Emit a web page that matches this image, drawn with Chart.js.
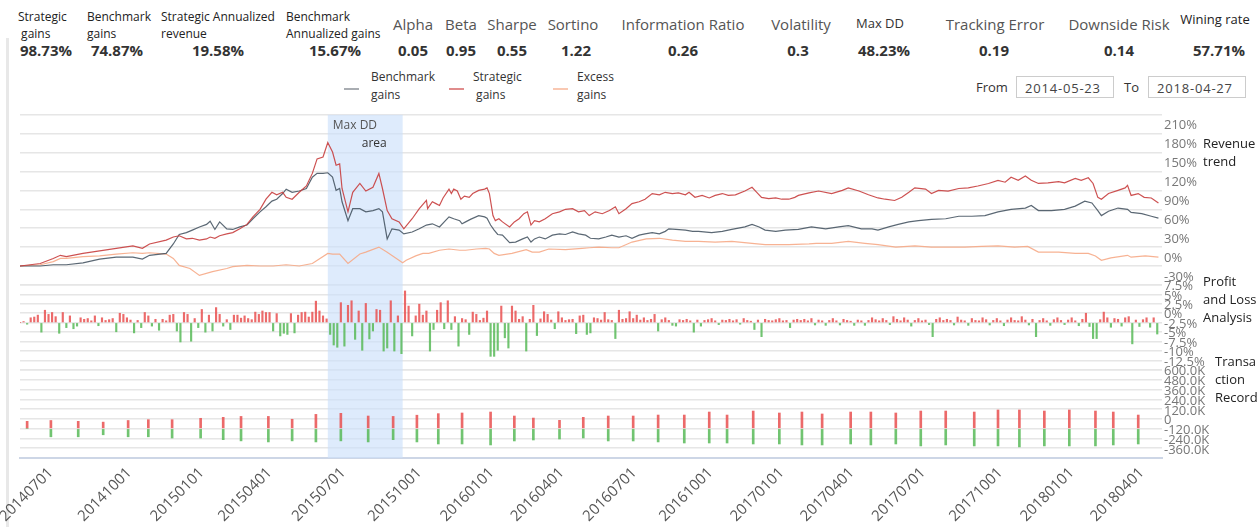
<!DOCTYPE html>
<html>
<head>
<meta charset="utf-8">
<script src="https://cdn.jsdelivr.net/npm/chart.js@4.4.0/dist/chart.umd.min.js"></script>
<style>
  body { margin: 0; width: 1260px; height: 527px; overflow: hidden; background: #fff; position: relative; font-family: "Open Sans", sans-serif; }
  .abs { position: absolute; white-space: nowrap; }
  .lbl { font-size: 12px; line-height: 17px; color: #222; }
  .big { font-size: 15px; line-height: 20px; color: #555; text-align: center; }
  .val { font-size: 15px; line-height: 20px; font-weight: bold; color: #333; text-align: center; }
  .leg { font-size: 12px; line-height: 18px; color: #333; }
  .sym { position: absolute; height: 2px; width: 15px; }
  .box { position: absolute; border: 1px solid #ccc; height: 22px; line-height: 22px; font-size: 13px; color: #444; letter-spacing: 0.8px; padding-left: 8px; box-sizing: border-box; }
  .ttl { font-size: 13px; line-height: 18px; color: #222; z-index: 2; }
  #mainChart { position: absolute; left: 0; top: 105px; }
</style>
</head>
<body>
<div class="abs" style="left:6px;top:38px;width:3px;height:489px;background:#e8e8e8;"></div>

<!-- stats header -->
<div class="abs lbl" style="left:18px;top:8px;">Strategic<br>&nbsp;gains</div>
<div class="abs val" style="left:16px;top:40px;width:60px;">98.73%</div>
<div class="abs lbl" style="left:87px;top:8px;">Benchmark<br>gains</div>
<div class="abs val" style="left:86px;top:40px;width:62px;">74.87%</div>
<div class="abs lbl" style="left:161px;top:8px;">Strategic Annualized<br>revenue</div>
<div class="abs val" style="left:176px;top:40px;width:84px;">19.58%</div>
<div class="abs lbl" style="left:286px;top:8px;">Benchmark<br>Annualized gains</div>
<div class="abs val" style="left:293px;top:40px;width:84px;">15.67%</div>

<div class="abs big" style="left:383px;top:14px;width:60px;">Alpha</div>
<div class="abs val" style="left:383px;top:40px;width:60px;">0.05</div>
<div class="abs big" style="left:436px;top:14px;width:50px;">Beta</div>
<div class="abs val" style="left:436px;top:40px;width:50px;">0.95</div>
<div class="abs big" style="left:482px;top:14px;width:60px;">Sharpe</div>
<div class="abs val" style="left:482px;top:40px;width:60px;">0.55</div>
<div class="abs big" style="left:543px;top:14px;width:60px;">Sortino</div>
<div class="abs val" style="left:546px;top:40px;width:60px;">1.22</div>
<div class="abs big" style="left:613px;top:14px;width:140px;">Information Ratio</div>
<div class="abs val" style="left:633px;top:40px;width:100px;">0.26</div>
<div class="abs big" style="left:761px;top:14px;width:80px;">Volatility</div>
<div class="abs val" style="left:758px;top:40px;width:80px;">0.3</div>
<div class="abs" style="left:840px;top:14px;width:80px;text-align:center;font-size:13px;line-height:18px;color:#333;">Max DD</div>
<div class="abs val" style="left:844px;top:40px;width:80px;">48.23%</div>
<div class="abs big" style="left:935px;top:14px;width:120px;">Tracking Error</div>
<div class="abs val" style="left:944px;top:40px;width:100px;">0.19</div>
<div class="abs big" style="left:1059px;top:14px;width:120px;">Downside Risk</div>
<div class="abs val" style="left:1069px;top:40px;width:100px;">0.14</div>
<div class="abs" style="left:1175px;top:10px;width:80px;text-align:center;font-size:13px;line-height:18px;color:#222;">Wining rate</div>
<div class="abs val" style="left:1179px;top:40px;width:80px;">57.71%</div>

<!-- legend -->
<div class="sym" style="left:344px;top:88px;background:#a9adb2;"></div>
<div class="abs leg" style="left:371px;top:68px;">Benchmark<br>gains</div>
<div class="sym" style="left:449px;top:88px;background:#e08c8c;"></div>
<div class="abs leg" style="left:473px;top:68px;">Strategic<br>&nbsp;gains</div>
<div class="sym" style="left:553px;top:88px;background:#f9c8b2;"></div>
<div class="abs leg" style="left:577px;top:68px;">Excess<br>gains</div>

<!-- date range -->
<div class="abs" style="left:976px;top:78px;font-size:13px;line-height:18px;color:#333;">From</div>
<div class="box" style="left:1016px;top:76px;width:98px;">2014-05-23</div>
<div class="abs" style="left:1124px;top:78px;font-size:13px;line-height:18px;color:#333;">To</div>
<div class="box" style="left:1148px;top:76px;width:98px;">2018-04-27</div>

<!-- panel titles -->
<div class="abs ttl" style="left:1203px;top:134px;">Revenue<br>trend</div>
<div class="abs ttl" style="left:1203px;top:272px;">Profit<br>and Loss<br>Analysis</div>
<div class="abs ttl" style="left:1215px;top:352px;">Transa<br>ction<br>Record</div>

<canvas id="mainChart" width="1260" height="422"></canvas>

<script>
// x is the trading-day index from 2014-05-23 (0) to 2018-04-27 (961)
var quarterDays = [26, 92, 153, 210, 272, 336, 397, 456, 517, 581, 641, 700, 760, 825, 885, 944];
var quarterLabels = ["20140701", "20141001", "20150101", "20150401", "20150701", "20151001", "20160101", "20160401",
  "20160701", "20161001", "20170101", "20170401", "20170701", "20171001", "20180101", "20180401"];

var maxDDRange = [259, 322];

// tick values of the three stacked panels
var revenueTicks = [-30, 0, 30, 60, 90, 120, 150, 180, 210, 240];
var pnlTicks = [-12.5, -10, -7.5, -5, -2.5, 0, 2.5, 5, 7.5, 10];
var tradeTicks = [-360000, -240000, -120000, 0, 120000, 240000, 360000, 480000, 600000, 720000];

// Revenue trend (%)
var strategicDays = [0, 17, 28, 34, 39, 53, 67, 81, 95, 103, 109, 123, 129,
  134, 140, 145, 151, 157, 160, 164, 168, 174, 179, 185, 191, 196, 202, 207, 212, 216, 221, 224, 229,
  235, 241, 246, 250, 255, 259, 263, 266, 269, 271, 276, 280, 286, 291, 297, 302, 305, 309, 313, 319, 323, 330,
  336, 342, 343, 347, 350, 353, 356, 361, 363, 365, 368, 371, 374, 378, 381, 386, 391, 393, 395, 398,
  400, 403, 406, 412, 416, 420, 424, 427, 430, 433, 437, 442, 448, 454, 459, 465, 470, 475, 479, 484,
  490, 496, 501, 504, 510, 515, 521, 526, 532, 538, 543, 549, 554, 560, 563, 568, 574, 580, 585, 591,
  596, 602, 610, 616, 620, 624, 630, 636, 641, 647, 652,
  655, 664, 672, 683, 692, 697, 706, 714, 722, 728, 736, 742, 748, 753, 762, 767, 773, 781, 790, 798,
  806, 815, 823, 829, 834, 840, 846, 851, 857, 865, 874, 879, 888, 893, 899, 903, 907, 910, 916, 924,
  930, 932, 935, 941, 946, 952, 958];
var strategicGains = [0, 4, 12, 17, 15, 20, 24, 28, 32, 28, 35, 41, 46,
  48, 43, 44, 41, 43, 46, 44, 48, 51, 53, 59, 66, 78, 90, 106, 117, 113, 117, 109, 106,
  117, 127, 147, 170, 173, 196, 181, 160, 162, 123, 86, 117, 131, 119, 125, 147, 123, 88, 75, 70, 59, 75,
  91, 104, 91, 102, 99, 96, 108, 122, 115, 122, 119, 106, 111, 109, 115, 120, 122, 124, 115, 80,
  72, 75, 70, 62, 70, 75, 83, 86, 65, 72, 70, 75, 83, 86, 90, 91, 86, 88, 80, 86,
  83, 88, 94, 83, 91, 99, 102, 106, 115, 113, 117, 115, 116, 113, 117, 109, 112, 108, 112, 115,
  112, 113, 119, 125, 117, 109, 107, 108, 106, 106, 109,
  112, 116, 119, 115, 120, 124, 119, 113, 108, 106, 104, 109, 117, 124, 122, 115, 120, 119, 123, 124,
  127, 131, 136, 133, 141, 136, 143, 136, 131, 132, 134, 132, 139, 136, 140, 131, 109, 106, 115, 120,
  124, 128, 112, 115, 109, 108, 100];

var benchmarkDays = [0, 17, 28, 34, 39, 53, 67, 81, 95, 103, 109, 123, 129,
  134, 140, 145, 151, 157, 160, 164, 168, 174, 179, 185, 191, 196, 202, 207, 212, 216, 221, 224, 229,
  235, 241, 246, 250, 255, 259, 263, 266, 269, 271, 276, 280, 286, 291, 297, 302, 305, 309, 313, 319, 323, 330,
  336, 342, 347, 353, 358, 361, 365, 370, 372, 375, 379, 386, 391, 393, 396, 399, 402, 406, 412, 417,
  423, 427, 430, 433, 437, 442, 448, 454, 459, 465, 470, 476, 480, 487, 493, 498, 504, 510, 515, 521,
  526, 532, 538, 543, 546, 552, 560, 566, 571, 582, 591, 599, 610, 616, 622, 627, 636, 644,
  655, 666, 678, 689, 697, 708, 717, 722, 731, 739, 748, 756, 767, 779, 790, 801, 812, 823, 834, 846,
  851, 857, 868, 879, 888, 896, 902, 907, 910, 916, 924, 932, 935, 944, 952, 958];
var benchmarkGains = [0, 0, 2, 2, 2, 5, 11, 14, 14, 11, 17, 20, 35,
  50, 53, 57, 62, 66, 71, 58, 70, 59, 58, 62, 65, 75, 86, 94, 103, 106, 115, 122, 117,
  119, 123, 141, 147, 147, 148, 141, 120, 123, 102, 72, 91, 91, 86, 88, 91, 86, 43, 59, 57, 51, 54,
  59, 65, 67, 62, 72, 78, 75, 72, 67, 70, 74, 80, 78, 76, 65, 57, 50, 49, 37, 38,
  43, 46, 38, 43, 46, 43, 49, 51, 50, 54, 51, 49, 44, 43, 46, 49, 46, 48, 44, 49,
  51, 53, 51, 55, 59, 58, 57, 55, 55, 53, 55, 58, 62, 66, 62, 57, 55, 57,
  58, 62, 59, 62, 64, 59, 59, 57, 62, 66, 70, 72, 74, 75, 79, 79, 80, 86, 90, 92,
  96, 88, 88, 90, 95, 103, 100, 88, 80, 87, 92, 90, 85, 83, 79, 76];

var excessDays = [0, 17, 28, 34, 39, 53, 67, 81, 95, 103, 109, 123, 129, 134, 143, 151, 162, 174, 179, 191,
  202, 213, 224, 235, 246, 259, 263, 269, 276, 286, 291, 302, 309, 322, 325, 333, 339, 344, 353, 361,
  370, 375, 384, 392, 395, 399, 403, 414, 426, 431, 437, 445, 459, 473, 479, 487, 498, 504, 515, 527,
  538, 549, 560, 571, 585, 599, 616, 627, 647, 664, 670, 683, 697, 711, 722, 737, 753, 767, 781, 795,
  809, 823, 837, 848, 857, 874, 888, 899, 905, 910, 918, 932, 935, 947, 958];
var excessGains = [0, 2, 7, 12, 12, 15, 16, 19, 21, 20, 21, 19, 12, 1, -4, -15, -9, -4, -1, 1,
  0, 0, 2, 0, 4, 20, 19, 19, 4, 19, 22, 30, 22, 5, 9, 16, 20, 20, 25, 27,
  25, 25, 27, 28, 27, 20, 17, 20, 26, 22, 22, 27, 26, 28, 29, 30, 29, 29, 38, 43,
  44, 41, 39, 39, 38, 39, 36, 34, 34, 35, 36, 36, 39, 36, 34, 30, 32, 30, 30, 30,
  31, 32, 30, 31, 22, 22, 20, 20, 16, 9, 13, 17, 14, 16, 14];

// Profit and loss (%), one bar every 3 trading days
var pnlStep = 3;
var pnlValues = [
  0, 0.3, -0.4, 1.3, 1.5, 2.0, -2.5, 3.3, 2.2, 2.7, 1.6, -2.8, 2.7, -1.3, 1.8, -1.6, -0.9, 1.3, 0.9, 1.1,
  0.5, 1.8, -0.8, 1.3, 0.6, 0.8, 1.1, -2.4, 2.5, 2.2, 1.3, 0.7, -2.7, 0.6, -1.3, 2.7, 1.8, -0.9, 0.9, -2.0,
  0.9, 0.5, 2.0, 2.2, -2.2, -5.1, 2.7, 2.2, -4.9, 1.1, -1.3, 3.5, -2.5, 2.0, -2.2, 4.0, 2.2, -0.9, 0.8, -1.8,
  2.0, 2.0, 1.2, 1.8, 1.1, 0.8, 2.8, 2.2, 3.1, 2.7, 2.7, -2.2, 2.4, -3.5, -2.8, -3.1, 2.4, -2.7, 2.0, 2.7,
  2.8, 1.5, 2.8, 5.7, 3.1, 1.8, 1.0, -3.1, -5.9, -6.5, 5.3, -6.2, 4.6, 5.8, -4.4, 3.1, -7.3, 5.1, -4.3, -2.2,
  3.5, 3.3, -7.5, -6.7, 5.8, -7.5, 1.8, -8.2, 8.4, 4.4, -3.5, 1.8, 4.9, 2.0, 3.1, -7.5, -1.8, 3.3, 5.3, -1.6,
  5.8, -1.8, 1.6, -6.2, 1.1, 0.8, -3.1, 2.8, 2.2, 0.6, 1.2, 3.1, -8.9, -8.9, -7.3, 4.4, -4.0, -6.7, 4.4, 3.1,
  0.9, 1.6, -7.5, 0.9, 4.6, -3.4, 1.0, 2.9, 2.2, 0.7, -1.6, 2.9, 1.3, 0.6, 0.8, 0.9, -2.9, 1.8, 2.0, -3.1,
  -2.7, 1.3, 1.1, 0.7, 2.7, 0.8, 0.6, -4.2, 3.3, 0.9, 1.1, 2.9, 1.1, 2.0, 0.7, 1.3, 0.6, 0.9, 2.2, -2.2,
  0.8, 1.3, 0.6, -0.7, -0.9, 0.8, 0.6, 0.9, 0.5, -2.5, 0.7, -0.9, 0.6, 0.8, 1.1, 0.5, -0.5, 0.7, 0.6, 0.9,
  0.5, 0.8, -0.4, 1.1, 0.6, 0.4, -1.8, 0.7, -3.7, 0.9, 0.6, 0.5, 0.8, 1.1, 0.5, 0.6, -1.3, 0.7, 0.9, 0.6,
  0.9, 0.5, 1.1, -0.6, 0.7, 0.5, -0.7, 0.6, 1.1, 0.5, -0.6, 0.9, 0.6, 0.4, -0.7, 0.7, 0.5, -0.7, 0.6, 1.3,
  0.8, 0.5, 1.1, 0.6, -0.5, 1.6, 0.9, 0.5, 1.3, 0.7, -0.9, 0.6, 1.1, 0.5, 0.7, -0.5, -3.7, 0.9, 1.3, 0.6,
  0.9, 0.6, -0.6, 1.5, 0.7, 0.5, -0.7, 1.1, 0.6, 0.5, 1.3, 0.8, -0.6, 0.6, 1.1, 0.5, -0.8, 0.7, 1.3, 0.6,
  0.5, 1.6, 0.7, -0.6, 0.9, -3.7, 0.6, 1.1, 0.5, -0.7, 0.8, 1.3, 0.6, -0.5, 0.7, 1.3, 0.5, -0.8, 0.9, 2.5,
  -1.0, -4.2, -4.2, 0.8, 2.8, 1.3, -1.2, 1.1, 0.9, -0.9, 1.3, 1.6, -5.6, 0.7, -1.0, 0.8, 1.3, -1.2, 1.3, -3.0
];

// Transaction record (buy / sell amounts)
var tradeDays = [6, 26, 49, 70, 91, 108, 128, 152, 171, 186, 209, 229, 249, 270, 293, 314, 334, 352, 372, 396,
  416, 432, 454, 474, 495, 516, 537, 559, 580, 595, 617, 639, 658, 675, 699, 716, 737, 758, 779, 803,
  823, 841, 862, 883, 905, 920, 941];
var buyAmounts = [90000, 100000, 90000, 80000, 100000, 110000, 110000, 127000, 139000, 150000,
  150000, 115000, 175000, 188000, 155000, 150000, 165000, 184000, 192000, 204000,
  155000, 130000, 102000, 139000, 155000, 155000, 167000, 167000, 204000, 167000,
  216000, 192000, 204000, 180000, 204000, 204000, 192000, 216000, 216000, 204000,
  229000, 229000, 216000, 229000, 216000, 204000, 167000];
var sellAmounts = [0, -100000, -100000, -75000, -100000, -100000, -115000, -115000, -135000, -150000,
  -163000, -150000, -163000, -150000, -163000, -135000, -163000, -188000, -188000, -200000,
  -151000, -139000, -127000, -114000, -151000, -151000, -163000, -176000, -176000, -176000,
  -188000, -188000, -200000, -200000, -188000, -200000, -188000, -212000, -200000, -212000,
  -212000, -224000, -212000, -212000, -212000, -200000, -188000];

var red = "rgba(233,80,80,0.85)";
var green = "rgba(88,186,88,0.85)";

function points(days, values) {
  return days.map((d, i) => ({ x: d, y: values[i] }));
}

var ddBand = {
  id: "ddBand",
  beforeDatasetsDraw: function(chart) {
    var xs = chart.scales.x;
    var area = chart.chartArea;
    var left = xs.getPixelForValue(maxDDRange[0]);
    var right = xs.getPixelForValue(maxDDRange[1]);
    var c = chart.ctx;
    c.save();
    c.fillStyle = "rgba(205,224,250,0.65)";
    c.fillRect(left, area.top, right - left, area.bottom - area.top);
    c.font = "12px 'Open Sans'";
    c.textBaseline = "middle";
    c.fillStyle = "#555";
    c.fillText("Max DD", left + 5, area.top + 11);
    c.fillStyle = "#333";
    c.fillText("area", left + 34, area.top + 29);
    c.restore();
  }
};

function rightAxis(weight, tickValues, fmt) {
  return {
    type: "linear",
    position: "right",
    stack: "panels",
    stackWeight: weight,
    min: tickValues[0],
    max: tickValues[tickValues.length - 1],
    grid: { color: "#e6e6e6", lineWidth: 1.5, drawTicks: false },
    border: { display: false },
    afterBuildTicks: function(s) {
      s.ticks = tickValues.map(v => ({ value: v }));
    },
    afterFit: function(s) { s.width = 98; },
    ticks: {
      autoSkip: false,
      padding: 2,
      labelOffset: -8,
      color: "#777",
      font: { size: 13, family: "'Open Sans'" },
      callback: fmt
    }
  };
}

var ctx = document.getElementById("mainChart").getContext("2d");

new Chart(ctx, {
  type: "bar",
  data: {
    datasets: [
      {
        type: "line",
        label: "Strategic gains",
        yAxisID: "y",
        data: points(strategicDays, strategicGains),
        borderColor: "rgba(200,62,62,0.9)",
        borderWidth: 1.2,
        pointRadius: 0
      },
      {
        type: "line",
        label: "Benchmark gains",
        yAxisID: "y",
        data: points(benchmarkDays, benchmarkGains),
        borderColor: "rgba(62,78,92,0.85)",
        borderWidth: 1.2,
        pointRadius: 0
      },
      {
        type: "line",
        label: "Excess gains",
        yAxisID: "y",
        data: points(excessDays, excessGains),
        borderColor: "rgba(246,170,135,0.9)",
        borderWidth: 1.2,
        pointRadius: 0
      },
      {
        label: "Profit and Loss",
        yAxisID: "y2",
        data: pnlValues.map((v, i) => ({ x: i * pnlStep, y: v })),
        backgroundColor: pnlValues.map(v => (v >= 0 ? red : green)),
        barThickness: 1.5,
        grouped: false
      },
      {
        label: "Buy",
        yAxisID: "y3",
        data: points(tradeDays, buyAmounts),
        backgroundColor: red,
        barThickness: 2,
        grouped: false
      },
      {
        label: "Sell",
        yAxisID: "y3",
        data: points(tradeDays, sellAmounts),
        backgroundColor: green,
        barThickness: 2,
        grouped: false
      }
    ]
  },
  options: {
    responsive: false,
    animation: false,
    layout: { padding: { left: 20, top: 8, right: 0, bottom: 0 } },
    plugins: {
      legend: { display: false },
      tooltip: { enabled: false }
    },
    scales: {
      x: {
        type: "linear",
        min: 0,
        max: 961,
        offset: false,
        grid: { display: false, drawTicks: false },
        border: { color: "#cdd6e6", width: 2 },
        afterBuildTicks: function(s) {
          s.ticks = quarterDays.map(d => ({ value: d }));
        },
        afterFit: function(s) {
          s.height = 69;
          s.paddingLeft = 0;
          s.paddingRight = 0;
        },
        ticks: {
          autoSkip: false,
          minRotation: 45,
          maxRotation: 45,
          padding: 6,
          color: "#555",
          font: { size: 15, family: "'Open Sans'" },
          callback: function(v) {
            var i = quarterDays.indexOf(v);
            return i < 0 ? "" : quarterLabels[i];
          }
        }
      },
      y: rightAxis(170, revenueTicks, function(v) {
        return v === 240 ? "" : v + "%";
      }),
      y2: rightAxis(85, pnlTicks, function(v) {
        return v === 10 ? "" : v + "%";
      }),
      y3: rightAxis(88, tradeTicks, function(v) {
        if (v === 720000) return "";
        if (v === 0) return "0";
        return (v / 1000).toFixed(1) + "K";
      })
    }
  },
  plugins: [ddBand]
});
</script>
</body>
</html>
